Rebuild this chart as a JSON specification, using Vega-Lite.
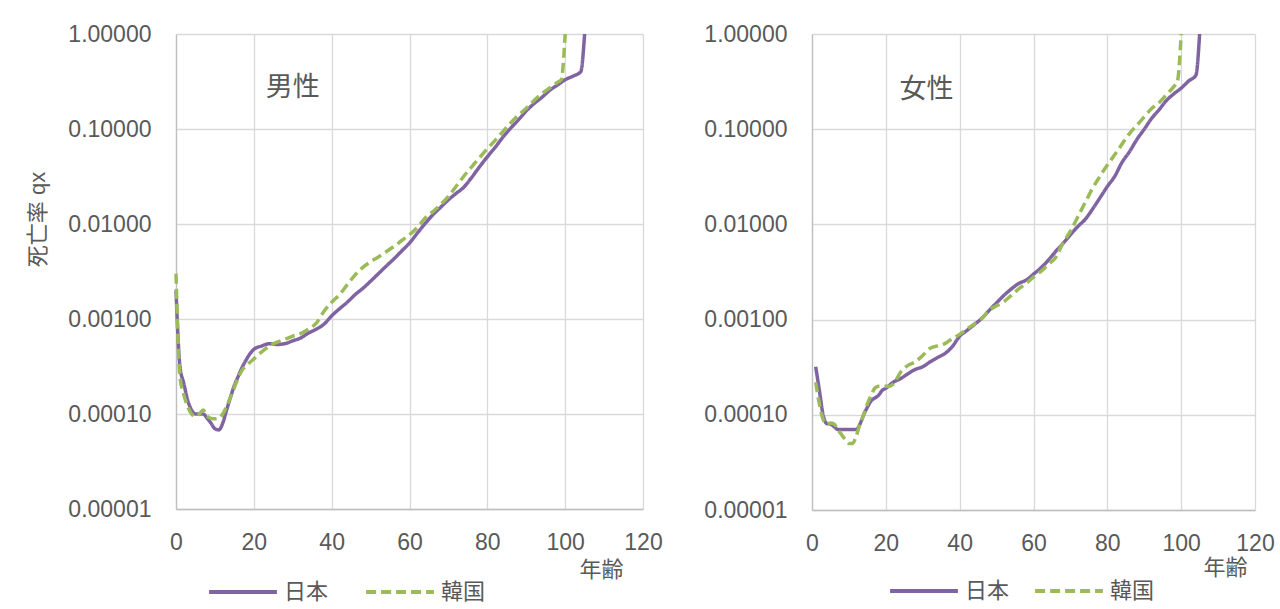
{
  "$schema": "https://vega.github.io/schema/vega-lite/v6.json",
  "padding": {"left": 26, "top": 23, "right": 0, "bottom": 0},
  "background": "white",
  "config": {
    "font": "Liberation Sans, Noto Sans CJK JP",
    "view": {"stroke": null},
    "axis": {
      "labelFont": "Liberation Sans, Noto Sans CJK JP",
      "labelFontSize": 23,
      "labelColor": "#595959",
      "gridColor": "#D9D9D9",
      "gridWidth": 1.3,
      "ticks": false,
      "domainColor": "#BFBFBF",
      "domainWidth": 1.3,
      "titleColor": "#595959",
      "titleFont": "Liberation Sans, Noto Sans CJK JP",
      "titleFontWeight": "normal",
      "titleFontSize": 22
    },
    "legend": {
      "orient": "none",
      "direction": "horizontal",
      "symbolType": "stroke",
      "symbolSize": 4600,
      "symbolStrokeWidth": 3.8,
      "labelFontSize": 22,
      "labelColor": "#595959",
      "labelFont": "Liberation Sans, Noto Sans CJK JP",
      "labelOffset": 5,
      "padding": 0,
      "title": null
    },
    "concat": {"spacing": 40}
  },
  "resolve": {"scale": {"color": "independent", "strokeDash": "independent"}},
  "datasets": {
    "male": [
      {"country": "日本", "age": 0, "q": 0.0020},
      {"country": "日本", "age": 1, "q": 0.00032},
      {"country": "日本", "age": 2, "q": 0.00021},
      {"country": "日本", "age": 3, "q": 0.00014},
      {"country": "日本", "age": 4, "q": 0.00011},
      {"country": "日本", "age": 5, "q": 0.0001},
      {"country": "日本", "age": 6, "q": 0.0001},
      {"country": "日本", "age": 7, "q": 0.0001},
      {"country": "日本", "age": 8, "q": 0.00009},
      {"country": "日本", "age": 9, "q": 0.00008},
      {"country": "日本", "age": 10, "q": 0.00007},
      {"country": "日本", "age": 11, "q": 0.000068},
      {"country": "日本", "age": 12, "q": 0.00008},
      {"country": "日本", "age": 13, "q": 0.00011},
      {"country": "日本", "age": 14, "q": 0.00015},
      {"country": "日本", "age": 15, "q": 0.0002},
      {"country": "日本", "age": 16, "q": 0.00025},
      {"country": "日本", "age": 17, "q": 0.00031},
      {"country": "日本", "age": 18, "q": 0.00037},
      {"country": "日本", "age": 19, "q": 0.00043},
      {"country": "日本", "age": 20, "q": 0.00048},
      {"country": "日本", "age": 22, "q": 0.00052},
      {"country": "日本", "age": 24, "q": 0.00055},
      {"country": "日本", "age": 26, "q": 0.00054},
      {"country": "日本", "age": 28, "q": 0.00055},
      {"country": "日本", "age": 30, "q": 0.00059},
      {"country": "日本", "age": 32, "q": 0.00063},
      {"country": "日本", "age": 34, "q": 0.00071},
      {"country": "日本", "age": 36, "q": 0.00078},
      {"country": "日本", "age": 38, "q": 0.00088},
      {"country": "日本", "age": 40, "q": 0.00108},
      {"country": "日本", "age": 42, "q": 0.00128},
      {"country": "日本", "age": 44, "q": 0.0015},
      {"country": "日本", "age": 46, "q": 0.0018},
      {"country": "日本", "age": 48, "q": 0.0021},
      {"country": "日本", "age": 50, "q": 0.0025},
      {"country": "日本", "age": 52, "q": 0.0030},
      {"country": "日本", "age": 54, "q": 0.0036},
      {"country": "日本", "age": 56, "q": 0.0043},
      {"country": "日本", "age": 58, "q": 0.0052},
      {"country": "日本", "age": 60, "q": 0.0063},
      {"country": "日本", "age": 62, "q": 0.0080},
      {"country": "日本", "age": 64, "q": 0.0101},
      {"country": "日本", "age": 66, "q": 0.0125},
      {"country": "日本", "age": 68, "q": 0.0150},
      {"country": "日本", "age": 70, "q": 0.0180},
      {"country": "日本", "age": 72, "q": 0.0210},
      {"country": "日本", "age": 74, "q": 0.0245},
      {"country": "日本", "age": 76, "q": 0.031},
      {"country": "日本", "age": 78, "q": 0.040},
      {"country": "日本", "age": 80, "q": 0.051},
      {"country": "日本", "age": 82, "q": 0.064},
      {"country": "日本", "age": 84, "q": 0.082},
      {"country": "日本", "age": 86, "q": 0.102},
      {"country": "日本", "age": 88, "q": 0.125},
      {"country": "日本", "age": 90, "q": 0.155},
      {"country": "日本", "age": 92, "q": 0.185},
      {"country": "日本", "age": 94, "q": 0.215},
      {"country": "日本", "age": 96, "q": 0.255},
      {"country": "日本", "age": 98, "q": 0.29},
      {"country": "日本", "age": 100, "q": 0.33},
      {"country": "日本", "age": 102, "q": 0.36},
      {"country": "日本", "age": 104, "q": 0.40},
      {"country": "日本", "age": 105, "q": 1.0},
      {"country": "韓国", "age": 0, "q": 0.0030},
      {"country": "韓国", "age": 1, "q": 0.00025},
      {"country": "韓国", "age": 2, "q": 0.00016},
      {"country": "韓国", "age": 3, "q": 0.00012},
      {"country": "韓国", "age": 4, "q": 0.0001},
      {"country": "韓国", "age": 5, "q": 0.000094},
      {"country": "韓国", "age": 6, "q": 0.0001},
      {"country": "韓国", "age": 7, "q": 0.00011},
      {"country": "韓国", "age": 8, "q": 0.000095},
      {"country": "韓国", "age": 9, "q": 0.00009},
      {"country": "韓国", "age": 10, "q": 0.000089},
      {"country": "韓国", "age": 11, "q": 0.00009},
      {"country": "韓国", "age": 12, "q": 0.0001},
      {"country": "韓国", "age": 13, "q": 0.00012},
      {"country": "韓国", "age": 14, "q": 0.00015},
      {"country": "韓国", "age": 15, "q": 0.00019},
      {"country": "韓国", "age": 16, "q": 0.00024},
      {"country": "韓国", "age": 17, "q": 0.00029},
      {"country": "韓国", "age": 18, "q": 0.00032},
      {"country": "韓国", "age": 19, "q": 0.00035},
      {"country": "韓国", "age": 20, "q": 0.00038},
      {"country": "韓国", "age": 22, "q": 0.00045},
      {"country": "韓国", "age": 24, "q": 0.00052},
      {"country": "韓国", "age": 26, "q": 0.00057},
      {"country": "韓国", "age": 28, "q": 0.00061},
      {"country": "韓国", "age": 30, "q": 0.00066},
      {"country": "韓国", "age": 32, "q": 0.0007},
      {"country": "韓国", "age": 34, "q": 0.00078},
      {"country": "韓国", "age": 36, "q": 0.0009},
      {"country": "韓国", "age": 38, "q": 0.0012},
      {"country": "韓国", "age": 40, "q": 0.0015},
      {"country": "韓国", "age": 42, "q": 0.0018},
      {"country": "韓国", "age": 44, "q": 0.0023},
      {"country": "韓国", "age": 46, "q": 0.0029},
      {"country": "韓国", "age": 48, "q": 0.0035},
      {"country": "韓国", "age": 50, "q": 0.0040},
      {"country": "韓国", "age": 52, "q": 0.0045},
      {"country": "韓国", "age": 54, "q": 0.0051},
      {"country": "韓国", "age": 56, "q": 0.0058},
      {"country": "韓国", "age": 58, "q": 0.0067},
      {"country": "韓国", "age": 60, "q": 0.0077},
      {"country": "韓国", "age": 62, "q": 0.0092},
      {"country": "韓国", "age": 64, "q": 0.0115},
      {"country": "韓国", "age": 66, "q": 0.0135},
      {"country": "韓国", "age": 68, "q": 0.016},
      {"country": "韓国", "age": 70, "q": 0.0195},
      {"country": "韓国", "age": 72, "q": 0.025},
      {"country": "韓国", "age": 74, "q": 0.032},
      {"country": "韓国", "age": 76, "q": 0.040},
      {"country": "韓国", "age": 78, "q": 0.050},
      {"country": "韓国", "age": 80, "q": 0.062},
      {"country": "韓国", "age": 82, "q": 0.076},
      {"country": "韓国", "age": 84, "q": 0.094},
      {"country": "韓国", "age": 86, "q": 0.116},
      {"country": "韓国", "age": 88, "q": 0.14},
      {"country": "韓国", "age": 90, "q": 0.165},
      {"country": "韓国", "age": 92, "q": 0.20},
      {"country": "韓国", "age": 94, "q": 0.235},
      {"country": "韓国", "age": 96, "q": 0.27},
      {"country": "韓国", "age": 98, "q": 0.31},
      {"country": "韓国", "age": 99, "q": 0.33},
      {"country": "韓国", "age": 100, "q": 1.0}
    ],
    "female": [
      {"country": "日本", "age": 1, "q": 0.00032},
      {"country": "日本", "age": 2, "q": 0.00018},
      {"country": "日本", "age": 3, "q": 0.0001},
      {"country": "日本", "age": 4, "q": 0.000081},
      {"country": "日本", "age": 5, "q": 0.00008},
      {"country": "日本", "age": 6, "q": 0.000075},
      {"country": "日本", "age": 7, "q": 0.00007},
      {"country": "日本", "age": 8, "q": 0.00007},
      {"country": "日本", "age": 9, "q": 0.00007},
      {"country": "日本", "age": 10, "q": 0.00007},
      {"country": "日本", "age": 11, "q": 0.00007},
      {"country": "日本", "age": 12, "q": 0.00007},
      {"country": "日本", "age": 13, "q": 0.00008},
      {"country": "日本", "age": 14, "q": 0.0001},
      {"country": "日本", "age": 15, "q": 0.00012},
      {"country": "日本", "age": 16, "q": 0.00014},
      {"country": "日本", "age": 17, "q": 0.00015},
      {"country": "日本", "age": 18, "q": 0.00016},
      {"country": "日本", "age": 19, "q": 0.00018},
      {"country": "日本", "age": 20, "q": 0.00019},
      {"country": "日本", "age": 22, "q": 0.00022},
      {"country": "日本", "age": 24, "q": 0.00024},
      {"country": "日本", "age": 26, "q": 0.00027},
      {"country": "日本", "age": 28, "q": 0.0003},
      {"country": "日本", "age": 30, "q": 0.00032},
      {"country": "日本", "age": 32, "q": 0.00036},
      {"country": "日本", "age": 34, "q": 0.0004},
      {"country": "日本", "age": 36, "q": 0.00044},
      {"country": "日本", "age": 38, "q": 0.00052},
      {"country": "日本", "age": 40, "q": 0.00067},
      {"country": "日本", "age": 42, "q": 0.00077},
      {"country": "日本", "age": 44, "q": 0.00089},
      {"country": "日本", "age": 46, "q": 0.00103},
      {"country": "日本", "age": 48, "q": 0.00125},
      {"country": "日本", "age": 50, "q": 0.0015},
      {"country": "日本", "age": 52, "q": 0.0018},
      {"country": "日本", "age": 54, "q": 0.0021},
      {"country": "日本", "age": 56, "q": 0.0024},
      {"country": "日本", "age": 58, "q": 0.0026},
      {"country": "日本", "age": 60, "q": 0.003},
      {"country": "日本", "age": 62, "q": 0.0035},
      {"country": "日本", "age": 64, "q": 0.0042},
      {"country": "日本", "age": 66, "q": 0.0052},
      {"country": "日本", "age": 68, "q": 0.0063},
      {"country": "日本", "age": 70, "q": 0.0078},
      {"country": "日本", "age": 72, "q": 0.0095},
      {"country": "日本", "age": 74, "q": 0.0113},
      {"country": "日本", "age": 76, "q": 0.0145},
      {"country": "日本", "age": 78, "q": 0.019},
      {"country": "日本", "age": 80, "q": 0.025},
      {"country": "日本", "age": 82, "q": 0.032},
      {"country": "日本", "age": 84, "q": 0.045},
      {"country": "日本", "age": 86, "q": 0.058},
      {"country": "日本", "age": 88, "q": 0.078},
      {"country": "日本", "age": 90, "q": 0.10},
      {"country": "日本", "age": 92, "q": 0.13},
      {"country": "日本", "age": 94, "q": 0.16},
      {"country": "日本", "age": 96, "q": 0.20},
      {"country": "日本", "age": 98, "q": 0.235},
      {"country": "日本", "age": 100, "q": 0.27},
      {"country": "日本", "age": 102, "q": 0.32},
      {"country": "日本", "age": 104, "q": 0.37},
      {"country": "日本", "age": 105, "q": 1.0},
      {"country": "韓国", "age": 1, "q": 0.00022},
      {"country": "韓国", "age": 2, "q": 0.00013},
      {"country": "韓国", "age": 3, "q": 0.00009},
      {"country": "韓国", "age": 4, "q": 0.00008},
      {"country": "韓国", "age": 5, "q": 0.000082},
      {"country": "韓国", "age": 6, "q": 0.00008},
      {"country": "韓国", "age": 7, "q": 0.00007},
      {"country": "韓国", "age": 8, "q": 0.000062},
      {"country": "韓国", "age": 9, "q": 0.000055},
      {"country": "韓国", "age": 10, "q": 0.00005},
      {"country": "韓国", "age": 11, "q": 0.00005},
      {"country": "韓国", "age": 12, "q": 0.00006},
      {"country": "韓国", "age": 13, "q": 0.00008},
      {"country": "韓国", "age": 14, "q": 0.0001},
      {"country": "韓国", "age": 15, "q": 0.00013},
      {"country": "韓国", "age": 16, "q": 0.00016},
      {"country": "韓国", "age": 17, "q": 0.00019},
      {"country": "韓国", "age": 18, "q": 0.0002},
      {"country": "韓国", "age": 19, "q": 0.0002},
      {"country": "韓国", "age": 20, "q": 0.0002},
      {"country": "韓国", "age": 21, "q": 0.0002},
      {"country": "韓国", "age": 22, "q": 0.00021},
      {"country": "韓国", "age": 24, "q": 0.00028},
      {"country": "韓国", "age": 26, "q": 0.00033},
      {"country": "韓国", "age": 28, "q": 0.00036},
      {"country": "韓国", "age": 30, "q": 0.00042},
      {"country": "韓国", "age": 32, "q": 0.0005},
      {"country": "韓国", "age": 34, "q": 0.00053},
      {"country": "韓国", "age": 36, "q": 0.00056},
      {"country": "韓国", "age": 38, "q": 0.00063},
      {"country": "韓国", "age": 40, "q": 0.0007},
      {"country": "韓国", "age": 42, "q": 0.0008},
      {"country": "韓国", "age": 44, "q": 0.0009},
      {"country": "韓国", "age": 46, "q": 0.00103},
      {"country": "韓国", "age": 48, "q": 0.00125},
      {"country": "韓国", "age": 50, "q": 0.0014},
      {"country": "韓国", "age": 52, "q": 0.00155},
      {"country": "韓国", "age": 54, "q": 0.0018},
      {"country": "韓国", "age": 56, "q": 0.0021},
      {"country": "韓国", "age": 58, "q": 0.0024},
      {"country": "韓国", "age": 60, "q": 0.0028},
      {"country": "韓国", "age": 62, "q": 0.0032},
      {"country": "韓国", "age": 64, "q": 0.0038},
      {"country": "韓国", "age": 66, "q": 0.0045},
      {"country": "韓国", "age": 68, "q": 0.0064},
      {"country": "韓国", "age": 70, "q": 0.0085},
      {"country": "韓国", "age": 72, "q": 0.012},
      {"country": "韓国", "age": 74, "q": 0.017},
      {"country": "韓国", "age": 76, "q": 0.024},
      {"country": "韓国", "age": 78, "q": 0.032},
      {"country": "韓国", "age": 80, "q": 0.042},
      {"country": "韓国", "age": 82, "q": 0.054},
      {"country": "韓国", "age": 84, "q": 0.07},
      {"country": "韓国", "age": 86, "q": 0.09},
      {"country": "韓国", "age": 88, "q": 0.11},
      {"country": "韓国", "age": 90, "q": 0.135},
      {"country": "韓国", "age": 92, "q": 0.165},
      {"country": "韓国", "age": 94, "q": 0.19},
      {"country": "韓国", "age": 96, "q": 0.23},
      {"country": "韓国", "age": 98, "q": 0.28},
      {"country": "韓国", "age": 99, "q": 0.32},
      {"country": "韓国", "age": 100, "q": 1.0}
    ]
  },
  "hconcat": [
    {
      "width": 467,
      "height": 475,
      "layer": [
        {
          "data": {"name": "male"},
          "mark": {"type": "line", "strokeWidth": 3.5, "interpolate": "monotone"},
          "encoding": {
            "x": {"field": "age", "type": "quantitative",
                  "scale": {"domain": [0, 120], "nice": false},
                  "axis": {"values": [0, 20, 40, 60, 80, 100, 120], "labelFlush": false, "labelPadding": 22,
                           "title": "年齢", "titleX": 447, "titleY": 60, "titleAlign": "right", "titleBaseline": "middle", "titleAngle": 0}},
            "y": {"field": "q", "type": "quantitative",
                  "scale": {"type": "log", "domain": [0.00001, 1], "nice": false},
                  "axis": {"values": [0.00001, 0.0001, 0.001, 0.01, 0.1, 1], "format": ".5f", "labelPadding": 25,
                           "title": "死亡率 qx", "titleX": -127, "titleY": 185, "titleAngle": 270, "titleAlign": "center", "titleBaseline": "bottom"}},
            "color": {"field": "country", "type": "nominal",
                      "scale": {"domain": ["日本", "韓国"], "range": ["#8064A2", "#9BBB59"]},
                      "legend": {"legendX": 31, "legendY": 522, "columnPadding": 29}},
            "strokeDash": {"field": "country", "type": "nominal",
                           "scale": {"domain": ["日本", "韓国"], "range": [[1, 0], [10, 5]]},
                           "legend": {"legendX": 31, "legendY": 522, "columnPadding": 29}}
          }
        },
        {
          "data": {"values": [{"age": 30, "q": 0.27, "label": "男性"}]},
          "mark": {"type": "text", "fontSize": 27, "color": "#595959", "align": "center", "baseline": "middle", "font": "Noto Sans CJK JP"},
          "encoding": {
            "x": {"field": "age", "type": "quantitative"},
            "y": {"field": "q", "type": "quantitative"},
            "text": {"field": "label"}
          }
        }
      ]
    },
    {
      "width": 443,
      "height": 476,
      "layer": [
        {
          "data": {"name": "female"},
          "mark": {"type": "line", "strokeWidth": 3.5, "interpolate": "monotone"},
          "encoding": {
            "x": {"field": "age", "type": "quantitative",
                  "scale": {"domain": [0, 120], "nice": false},
                  "axis": {"values": [0, 20, 40, 60, 80, 100, 120], "labelFlush": false, "labelPadding": 22,
                           "title": "年齢", "titleX": 435, "titleY": 57, "titleAlign": "right", "titleBaseline": "middle", "titleAngle": 0}},
            "y": {"field": "q", "type": "quantitative",
                  "scale": {"type": "log", "domain": [0.00001, 1], "nice": false},
                  "axis": {"values": [0.00001, 0.0001, 0.001, 0.01, 0.1, 1], "format": ".5f", "labelPadding": 25, "title": null}},
            "color": {"field": "country", "type": "nominal",
                      "scale": {"domain": ["日本", "韓国"], "range": ["#8064A2", "#9BBB59"]},
                      "legend": {"legendX": 76, "legendY": 521, "columnPadding": 17}},
            "strokeDash": {"field": "country", "type": "nominal",
                           "scale": {"domain": ["日本", "韓国"], "range": [[1, 0], [10, 5]]},
                           "legend": {"legendX": 76, "legendY": 521, "columnPadding": 17}}
          }
        },
        {
          "data": {"values": [{"age": 31, "q": 0.258, "label": "女性"}]},
          "mark": {"type": "text", "fontSize": 27, "color": "#595959", "align": "center", "baseline": "middle", "font": "Noto Sans CJK JP"},
          "encoding": {
            "x": {"field": "age", "type": "quantitative"},
            "y": {"field": "q", "type": "quantitative"},
            "text": {"field": "label"}
          }
        }
      ]
    }
  ]
}
